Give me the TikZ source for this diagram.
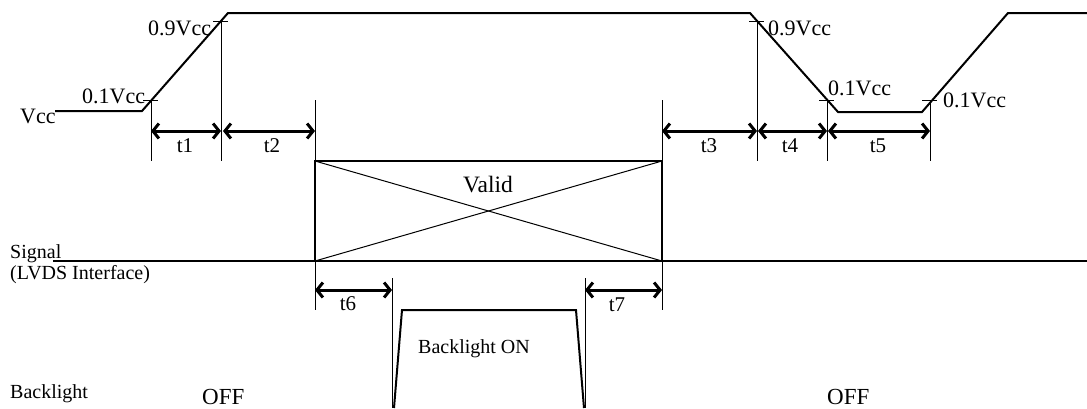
\documentclass[tikz,border=0pt]{standalone}
\usepackage{fontspec}
\setmainfont{Liberation Serif}
\usetikzlibrary{arrows.meta,positioning}
\tikzset{
  wave/.style={line width=2pt, line join=miter},
  guide/.style={line width=1pt},
  tick/.style={line width=1pt},
  span/.style={{Straight Barb[length=6pt,width=15pt]}-{Straight Barb[length=6pt,width=15pt]}, line width=3pt},
  level/.style={font=\fontsize{22}{24}\selectfont, inner sep=0pt, anchor=base west},
  tname/.style={font=\fontsize{21}{24}\selectfont, inner sep=0pt, anchor=base},
  lane/.style={font=\fontsize{20}{22}\selectfont, inner sep=0pt, anchor=base west},
  state/.style={font=\fontsize{23}{25}\selectfont, inner sep=0pt, anchor=base west}
}

\begin{document}
\begin{tikzpicture}[x=1pt, y=-1pt]
\useasboundingbox (0,0) rectangle (1087,408);

% supply waveform
\coordinate (v0) at (55,111);
\coordinate (v1) at (142,111);
\coordinate (v2) at (228,13);
\coordinate (v3) at (750,13);
\coordinate (v4) at (838,112);
\coordinate (v5) at (922,112);
\coordinate (v6) at (1008,13);
\coordinate (v7) at (1087,13);
\draw[wave] (v0) -- (v1) -- (v2) -- (v3) -- (v4) -- (v5) -- (v6) -- (v7);

% level crossings
\coordinate (up10) at (151,100);
\coordinate (up90) at (221,21);
\coordinate (dn90) at (757,21);
\coordinate (dn10) at (827,100);
\coordinate (re10) at (930,100);
\foreach \m in {up10,up90,dn90,dn10,re10}{
  \draw[tick] ([xshift=-8pt]\m) -- ([xshift=7pt]\m);
  \coordinate (\m-b) at (\m |- 0,161);
  \draw[guide] (\m) -- (\m-b);
}

% signal
\coordinate (s0) at (53,261);
\coordinate (s1) at (1087,261);
\coordinate (gl) at (315,100);
\coordinate (gr) at (662,100);
\coordinate (gl-b) at (315,310);
\coordinate (gr-b) at (662,310);
\draw[guide] (gl) -- (gl-b);
\draw[guide] (gr) -- (gr-b);
\draw[line width=2pt] (315,161) rectangle (662,261);
\draw[guide] (315,161) -- (662,261);
\draw[guide] (315,261) -- (662,161);
\draw[line width=2.5pt] (s0) -- (s1);
\node[font=\fontsize{23.5}{25}\selectfont, inner sep=0pt, anchor=base] (valid) at (488,192) {Valid};

% backlight
\coordinate (b0) at (394,408);
\coordinate (b1) at (402,310);
\coordinate (b2) at (576,310);
\coordinate (b3) at (584,408);
\draw[wave] (b0) -- (b1) -- (b2) -- (b3);
\coordinate (on) at (392,278);
\coordinate (on-b) at (392,408);
\coordinate (off) at (585,278);
\coordinate (off-b) at (585,408);
\draw[guide] (on) -- (on-b);
\draw[guide] (off) -- (off-b);

% timing spans
\coordinate (a1) at (up10 |- 0,131);
\coordinate (a2) at (up90 |- 0,131);
\coordinate (a3) at (gl |- 0,131);
\coordinate (a4) at (gr |- 0,131);
\coordinate (a5) at (dn90 |- 0,131);
\coordinate (a6) at (dn10 |- 0,131);
\coordinate (a7) at (re10 |- 0,131);
\draw[span] (a1) -- (a2);
\draw[span] ([xshift=2pt]a2) -- (a3);
\draw[span] (a4) -- (a5);
\draw[span] ([xshift=1pt]a5) -- (a6);
\draw[span] ([xshift=1pt]a6) -- (a7);
\coordinate (c1) at (gl |- 0,290);
\coordinate (c2) at (on |- 0,290);
\coordinate (c3) at (off |- 0,290);
\coordinate (c4) at (gr |- 0,290);
\draw[span] (c1) -- (c2);
\draw[span] (c3) -- (c4);

\node[tname] (t1) at (185,152) {t1};
\node[tname] (t2) at (272,152) {t2};
\node[tname] (t3) at (709,152) {t3};
\node[tname] (t4) at (790,152) {t4};
\node[tname] (t5) at (878,152) {t5};
\node[tname] (t6) at (348,310) {t6};
\node[tname] (t7) at (617,311) {t7};

% labels
\node[level] (vcc) at (20,123) {Vcc};
\node[level] (lo1) at (82,103) {0.1Vcc};
\node[level] (hi1) at (148,35) {0.9Vcc};
\node[level] (hi2) at (768,35) {0.9Vcc};
\node[level] (lo2) at (828,95) {0.1Vcc};
\node[level] (lo3) at (943,107) {0.1Vcc};
\node[lane] (sig) at (10,258) {Signal};
\node[lane] (lvds) at (10,279) {(LVDS Interface)};
\node[lane] (bl) at (10,398) {Backlight};
\node[lane] (blon) at (418,353) {Backlight ON};
\node[state] (offl) at (202,404) {OFF};
\node[state] (offr) at (827,404) {OFF};
\end{tikzpicture}
\end{document}
